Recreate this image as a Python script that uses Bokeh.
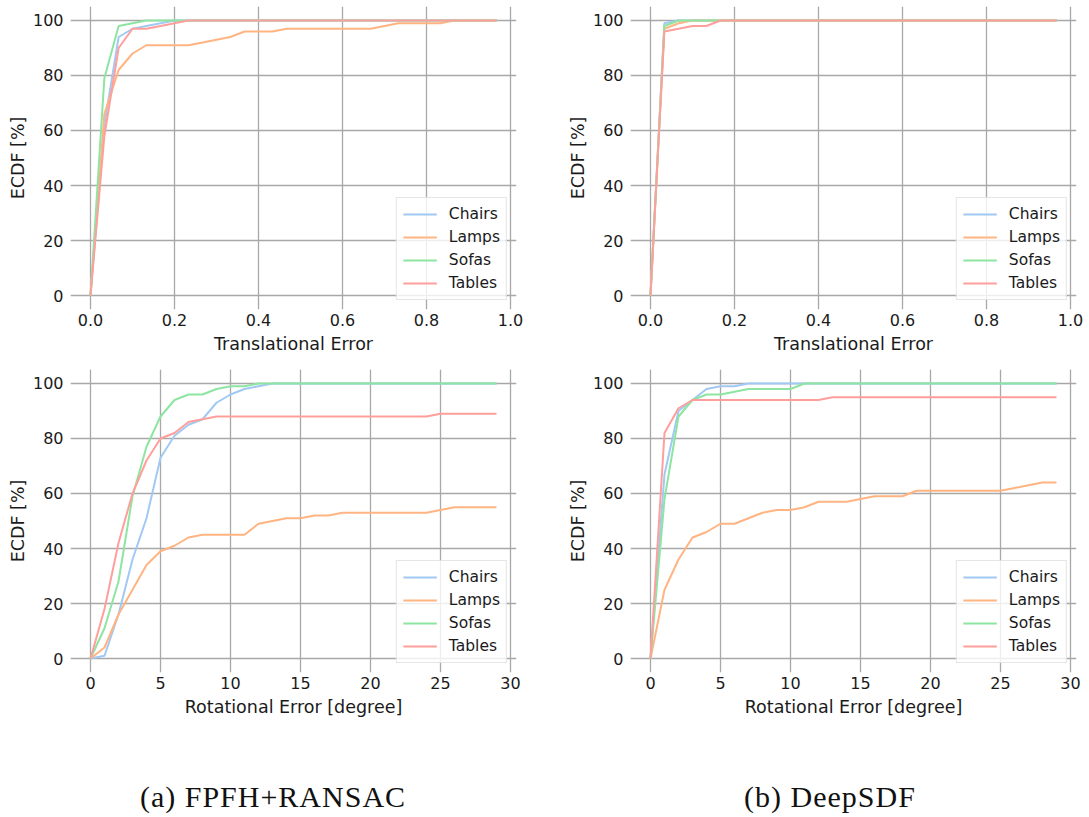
from bokeh.plotting import figure
from bokeh.layouts import column, row
from bokeh.models import Div, FixedTicker, NumeralTickFormatter, Range1d
from bokeh.embed import file_html
from bokeh.resources import INLINE

# ---------------- data ----------------
categories = ["Chairs", "Lamps", "Sofas", "Tables"]
colors = ["#a1c9f4", "#ffb482", "#8de5a1", "#ff9f9b"]

trans_err = [0.0, 0.033, 0.067, 0.1, 0.133, 0.167, 0.2, 0.233, 0.267, 0.3,
             0.333, 0.367, 0.4, 0.433, 0.467, 0.5, 0.533, 0.567, 0.6, 0.633,
             0.667, 0.7, 0.733, 0.767, 0.8, 0.833, 0.867, 0.9, 0.933, 0.967]
rot_err = [0, 1, 2, 3, 4, 5, 6, 7, 8, 9, 10, 11, 12, 13, 14,
           15, 16, 17, 18, 19, 20, 21, 22, 23, 24, 25, 26, 27, 28, 29]

# (a) FPFH+RANSAC, translational
fpfh_trans_chairs = [0, 62, 94, 97, 98, 99, 100, 100, 100, 100, 100, 100, 100, 100, 100,
                     100, 100, 100, 100, 100, 100, 100, 100, 100, 100, 100, 100, 100, 100, 100]
fpfh_trans_lamps = [0, 66, 82, 88, 91, 91, 91, 91, 92, 93, 94, 96, 96, 96, 97,
                    97, 97, 97, 97, 97, 97, 98, 99, 99, 99, 99, 100, 100, 100, 100]
fpfh_trans_sofas = [0, 79, 98, 99, 100, 100, 100, 100, 100, 100, 100, 100, 100, 100, 100,
                    100, 100, 100, 100, 100, 100, 100, 100, 100, 100, 100, 100, 100, 100, 100]
fpfh_trans_tables = [0, 58, 90, 97, 97, 98, 99, 100, 100, 100, 100, 100, 100, 100, 100,
                     100, 100, 100, 100, 100, 100, 100, 100, 100, 100, 100, 100, 100, 100, 100]

# (b) DeepSDF, translational
sdf_trans_chairs = [0, 99, 100, 100, 100, 100, 100, 100, 100, 100, 100, 100, 100, 100, 100,
                    100, 100, 100, 100, 100, 100, 100, 100, 100, 100, 100, 100, 100, 100, 100]
sdf_trans_lamps = [0, 97, 99, 100, 100, 100, 100, 100, 100, 100, 100, 100, 100, 100, 100,
                   100, 100, 100, 100, 100, 100, 100, 100, 100, 100, 100, 100, 100, 100, 100]
sdf_trans_sofas = [0, 98, 100, 100, 100, 100, 100, 100, 100, 100, 100, 100, 100, 100, 100,
                   100, 100, 100, 100, 100, 100, 100, 100, 100, 100, 100, 100, 100, 100, 100]
sdf_trans_tables = [0, 96, 97, 98, 98, 100, 100, 100, 100, 100, 100, 100, 100, 100, 100,
                    100, 100, 100, 100, 100, 100, 100, 100, 100, 100, 100, 100, 100, 100, 100]

# (a) FPFH+RANSAC, rotational
fpfh_rot_chairs = [0, 1, 16, 36, 51, 73, 81, 85, 87, 93, 96, 98, 99, 100, 100,
                   100, 100, 100, 100, 100, 100, 100, 100, 100, 100, 100, 100, 100, 100, 100]
fpfh_rot_lamps = [0, 4, 16, 25, 34, 39, 41, 44, 45, 45, 45, 45, 49, 50, 51,
                  51, 52, 52, 53, 53, 53, 53, 53, 53, 53, 54, 55, 55, 55, 55]
fpfh_rot_sofas = [0, 11, 28, 59, 77, 88, 94, 96, 96, 98, 99, 99, 100, 100, 100,
                  100, 100, 100, 100, 100, 100, 100, 100, 100, 100, 100, 100, 100, 100, 100]
fpfh_rot_tables = [0, 18, 42, 60, 72, 80, 82, 86, 87, 88, 88, 88, 88, 88, 88,
                   88, 88, 88, 88, 88, 88, 88, 88, 88, 88, 89, 89, 89, 89, 89]

# (b) DeepSDF, rotational
sdf_rot_chairs = [0, 67, 90, 94, 98, 99, 99, 100, 100, 100, 100, 100, 100, 100, 100,
                  100, 100, 100, 100, 100, 100, 100, 100, 100, 100, 100, 100, 100, 100, 100]
sdf_rot_lamps = [0, 25, 36, 44, 46, 49, 49, 51, 53, 54, 54, 55, 57, 57, 57,
                 58, 59, 59, 59, 61, 61, 61, 61, 61, 61, 61, 62, 63, 64, 64]
sdf_rot_sofas = [0, 58, 88, 94, 96, 96, 97, 98, 98, 98, 98, 100, 100, 100, 100,
                 100, 100, 100, 100, 100, 100, 100, 100, 100, 100, 100, 100, 100, 100, 100]
sdf_rot_tables = [0, 82, 91, 94, 94, 94, 94, 94, 94, 94, 94, 94, 94, 95, 95,
                  95, 95, 95, 95, 95, 95, 95, 95, 95, 95, 95, 95, 95, 95, 95]

trans_ticks = [0.0, 0.2, 0.4, 0.6, 0.8, 1.0]
rot_ticks = [0, 5, 10, 15, 20, 25, 30]
y_ticks = [0, 20, 40, 60, 80, 100]

FONT = "DejaVu Sans"
TXT = "#1a1a1a"
GRID = "#a8a8a8"


def make_fig(x, series, xr, yr, width, height, mbl, mbr, mbt, mbb, xticks, xfmt, xlabel):
    p = figure(width=width, height=height, x_range=Range1d(*xr), y_range=Range1d(*yr),
               output_backend="svg", toolbar_location=None,
               min_border_left=mbl, min_border_right=mbr,
               min_border_top=mbt, min_border_bottom=mbb)
    p.outline_line_color = None
    p.background_fill_color = "white"
    p.border_fill_color = "white"
    for name, vals, col in zip(categories, series, colors):
        p.line(x, vals, line_color=col, line_width=2, legend_label=name)

    p.xaxis.ticker = FixedTicker(ticks=xticks)
    p.xaxis.formatter = NumeralTickFormatter(format=xfmt)
    p.yaxis.ticker = FixedTicker(ticks=y_ticks)
    p.xaxis.axis_label = xlabel
    p.yaxis.axis_label = "ECDF [%]"
    for ax in (p.xaxis, p.yaxis):
        ax.axis_line_color = None
        ax.major_tick_line_color = None
        ax.minor_tick_line_color = None
        ax.major_tick_out = 0
        ax.major_tick_in = 0
        ax.major_label_text_font = FONT
        ax.major_label_text_font_size = "16px"
        ax.major_label_text_color = TXT
        ax.axis_label_text_font = FONT
        ax.axis_label_text_font_size = "17.5px"
        ax.axis_label_text_font_style = "normal"
        ax.axis_label_text_color = TXT
    p.yaxis.major_label_standoff = 7
    p.yaxis.axis_label_standoff = 2
    p.xaxis.major_label_standoff = 4
    p.xaxis.axis_label_standoff = 5

    p.xgrid.grid_line_color = GRID
    p.ygrid.grid_line_color = GRID
    p.xgrid.grid_line_width = 1.3
    p.ygrid.grid_line_width = 1.3

    lg = p.legend[0]
    lg.location = "bottom_right"
    lg.margin = 9
    lg.padding = 6
    lg.spacing = 3
    lg.glyph_width = 34
    lg.glyph_height = 20
    lg.label_height = 20
    lg.label_standoff = 12
    lg.label_text_font = FONT
    lg.label_text_font_size = "15.5px"
    lg.label_text_color = TXT
    lg.background_fill_color = "white"
    lg.background_fill_alpha = 0.8
    lg.border_line_color = "#cccccc"
    lg.border_line_width = 1
    return p


tx_range = (-0.0476, 1.0143)
rx_range = (-1.4286, 30.43)
y_range = (-5.09, 105.09)

p1 = make_fig(trans_err, [fpfh_trans_chairs, fpfh_trans_lamps, fpfh_trans_sofas, fpfh_trans_tables],
              tx_range, y_range, 560, 360, 70, 44, 6, 51, trans_ticks, "0.0", "Translational Error")
p2 = make_fig(trans_err, [sdf_trans_chairs, sdf_trans_lamps, sdf_trans_sofas, sdf_trans_tables],
              tx_range, y_range, 525, 360, 70, 9, 6, 51, trans_ticks, "0.0", "Translational Error")
p3 = make_fig(rot_err, [fpfh_rot_chairs, fpfh_rot_lamps, fpfh_rot_sofas, fpfh_rot_tables],
              rx_range, y_range, 560, 364, 70, 44, 9, 52, rot_ticks, "0", "Rotational Error [degree]")
p4 = make_fig(rot_err, [sdf_rot_chairs, sdf_rot_lamps, sdf_rot_sofas, sdf_rot_tables],
              rx_range, y_range, 525, 364, 70, 9, 9, 52, rot_ticks, "0", "Rotational Error [degree]")

cap_style = ("font-family: 'Liberation Serif', serif; font-size: 30px; line-height: 30px; "
             "color: #111; text-align: center; width: 400px; letter-spacing: 1px; padding-top: 53px;")
c1 = Div(text='<div style="%s margin-left: 68px;">(a) FPFH+RANSAC</div>' % cap_style,
         width=560, height=85)
c2 = Div(text='<div style="%s margin-left: 55px;">(b) DeepSDF</div>' % cap_style,
         width=525, height=85)

layout = column(row(p1, p2), row(p3, p4), row(c1, c2))

with open("out.html", "w") as f:
    f.write(file_html(layout, INLINE))
